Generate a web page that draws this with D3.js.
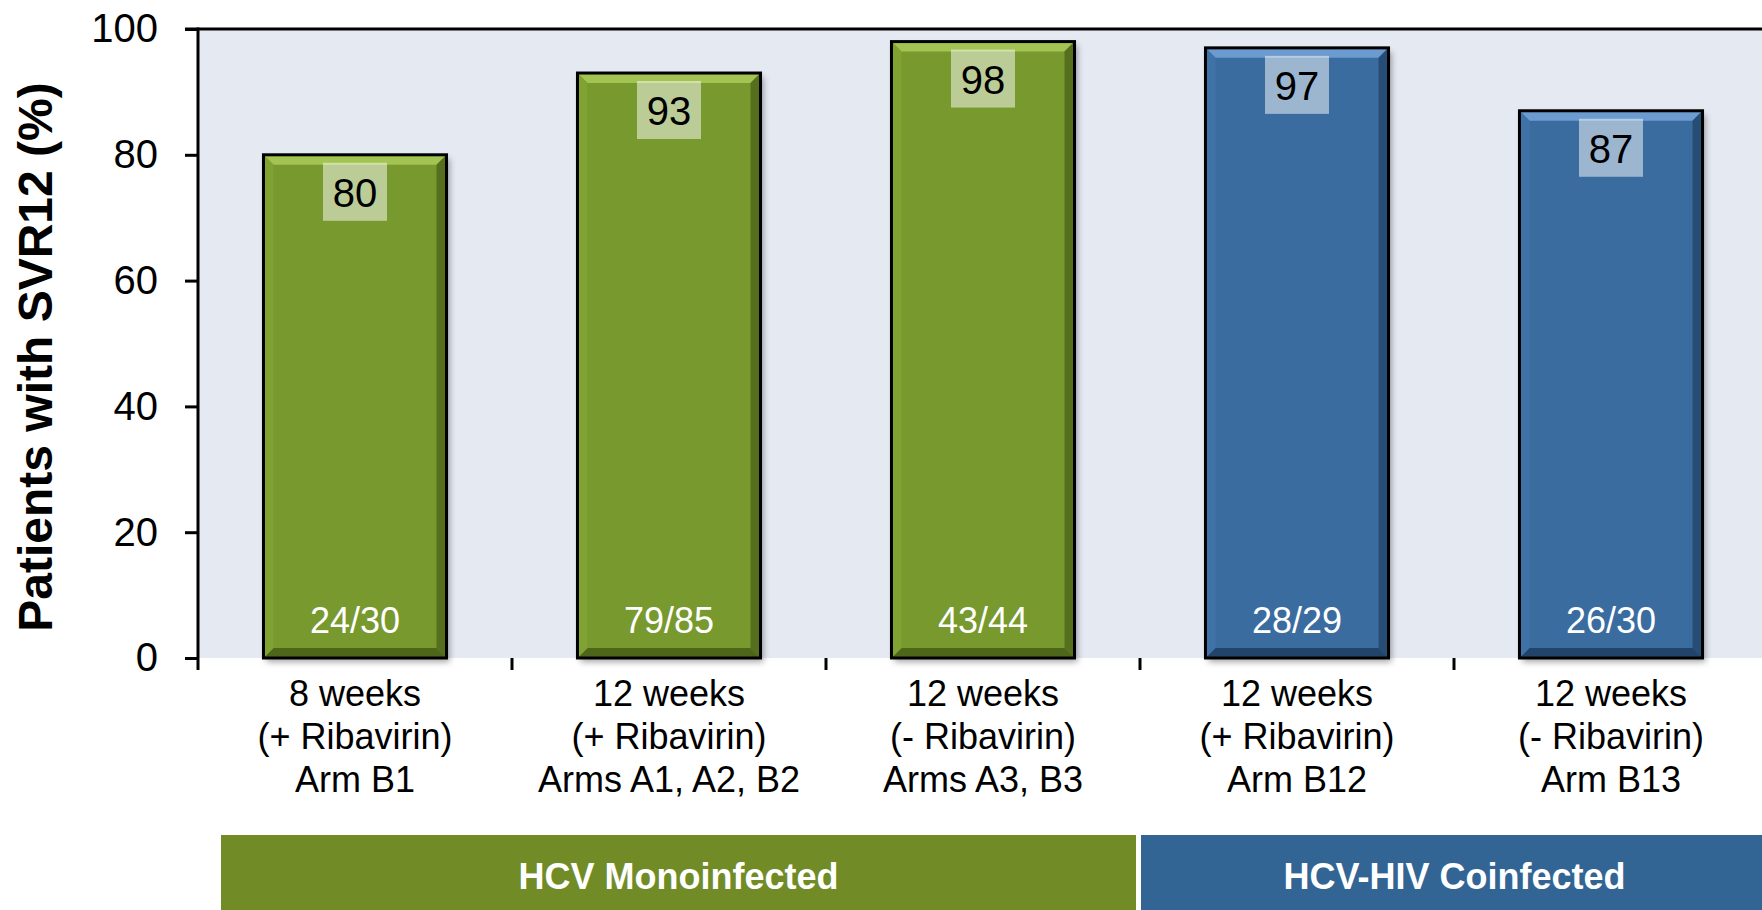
<!DOCTYPE html>
<html><head><meta charset="utf-8">
<script src="https://cdn.jsdelivr.net/npm/d3@7"></script>
<style>
body{margin:0;background:#fff;}
svg{display:block;font-family:"Liberation Sans",Arial,Helvetica,sans-serif;}
</style>
</head><body>
<svg id="c" width="1762" height="910"></svg>
<script>
// ---- data ----
const categories = [
  ["8 weeks", "(+ Ribavirin)", "Arm B1"],
  ["12 weeks", "(+ Ribavirin)", "Arms A1, A2, B2"],
  ["12 weeks", "(- Ribavirin)", "Arms A3, B3"],
  ["12 weeks", "(+ Ribavirin)", "Arm B12"],
  ["12 weeks", "(- Ribavirin)", "Arm B13"]
];
const values = [80, 93, 98, 97, 87];
const ratios = ["24/30", "79/85", "43/44", "28/29", "26/30"];
const groupOf = [0, 0, 0, 1, 1];
const groupNames = ["HCV Monoinfected", "HCV-HIV Coinfected"];
const yTicks = [0, 20, 40, 60, 80, 100];
const yTitle = "Patients with SVR12 (%)";

// ---- styles ----
const palette = [
  {main:"#78992d", light:"#a3c453", left:"#80a232", dark:"#566f1e", bottom:"#4e661a", box:"#718c26"},
  {main:"#3a6ca0", light:"#6c9bd0", left:"#3f72a7", dark:"#284d75", bottom:"#22446a", box:"#336594"}
];

const svg = d3.select("#c");
const defs = svg.append("defs");
const f = defs.append("filter").attr("id","shadow").attr("x","-10%").attr("y","-10%").attr("width","130%").attr("height","130%");
f.append("feDropShadow").attr("dx",3).attr("dy",4).attr("stdDeviation",3).attr("flood-color","#000").attr("flood-opacity",0.35);

const x = d3.scaleBand().domain(d3.range(categories.length)).range([198, 1768])
  .paddingInner(0.417).paddingOuter(0.2085);
const y = d3.scaleLinear().domain([0, 100]).range([658, 29]);
const step = x.step();
const bandStart = i => x(i) - x.paddingInner() * step / 2;

// plot background
svg.append("rect").attr("x", x.range()[0]).attr("y", y(100))
  .attr("width", x.range()[1] - x.range()[0]).attr("height", y(0) - y(100))
  .attr("fill", "#e5e9f2");

// bars
const bw = x.bandwidth();
const bev = 10;
const bars = svg.append("g").selectAll("g").data(values).join("g")
  .attr("transform", (d, i) => `translate(${x(i)},${y(d)})`);
bars.each(function(d, i) {
  const g = d3.select(this);
  const h = y(0) - y(d);
  const c = palette[groupOf[i]];
  g.append("rect").attr("width", bw).attr("height", h).attr("fill", c.main).attr("filter","url(#shadow)");
  g.append("polygon").attr("points", `0,0 ${bw},0 ${bw-bev},${bev} ${bev},${bev}`).attr("fill", c.light);
  g.append("polygon").attr("points", `${bw},0 ${bw},${h} ${bw-bev},${h-bev} ${bw-bev},${bev}`).attr("fill", c.dark);
  g.append("polygon").attr("points", `0,${h} ${bw},${h} ${bw-bev},${h-bev} ${bev},${h-bev}`).attr("fill", c.bottom);
  g.append("polygon").attr("points", `0,0 ${bev},${bev} ${bev},${h-bev} 0,${h}`).attr("fill", c.left);
  g.append("rect").attr("width", bw).attr("height", h).attr("fill", "none").attr("stroke", "#000").attr("stroke-width", 3);
  // value label box
  g.append("rect").attr("x", bw/2 - 32).attr("y", 8).attr("width", 64).attr("height", 58)
    .attr("fill", "#fff").attr("fill-opacity", 0.5);
  g.append("text").attr("x", bw/2).attr("y", 52).attr("text-anchor", "middle")
    .attr("font-size", 40).attr("fill", "#000").text(d);
  // ratio label
  g.append("text").attr("x", bw/2).attr("y", h - 25).attr("text-anchor", "middle")
    .attr("font-size", 36).attr("fill", "#fff").text(ratios[i]);
});

// x axis line with shadow
svg.append("line").attr("x1", 198).attr("x2", 1768).attr("y1", y(0)).attr("y2", y(0))
  .attr("stroke", "#000").attr("stroke-width", 3.5).attr("filter","url(#shadow)");
// top border
svg.append("line").attr("x1", 185).attr("x2", 1768).attr("y1", y(100)).attr("y2", y(100))
  .attr("stroke", "#000").attr("stroke-width", 3);
// y axis line
svg.append("line").attr("x1", 198).attr("x2", 198).attr("y1", y(100) - 1.5).attr("y2", y(0) + 12)
  .attr("stroke", "#000").attr("stroke-width", 3);

// y axis ticks and labels
const yAxis = svg.append("g").attr("transform", "translate(198,0)")
  .call(d3.axisLeft(y).tickValues(yTicks).tickSize(13).tickPadding(27).tickSizeOuter(0));
yAxis.select(".domain").remove();
yAxis.selectAll(".tick line").attr("stroke", "#000").attr("stroke-width", 3);
yAxis.selectAll(".tick text").attr("font-size", 40).attr("fill", "#000")
  .attr("font-family", "Liberation Sans, Arial, sans-serif");

// x category boundary ticks
svg.append("g").selectAll("line").data(d3.range(1, categories.length + 1)).join("line")
  .attr("x1", i => bandStart(i < categories.length ? i : 0) + (i < categories.length ? 0 : step * categories.length))
  .attr("x2", i => bandStart(i < categories.length ? i : 0) + (i < categories.length ? 0 : step * categories.length))
  .attr("y1", y(0)).attr("y2", y(0) + 12).attr("stroke", "#000").attr("stroke-width", 3);

// x category labels via axis
const xAxis = svg.append("g").attr("transform", `translate(0,${y(0)})`)
  .call(d3.axisBottom(x).tickSize(0).tickFormat(() => ""));
xAxis.select(".domain").remove();
xAxis.selectAll(".tick text").remove();
xAxis.selectAll(".tick").each(function(i) {
  const t = d3.select(this).append("text").attr("text-anchor", "middle")
    .attr("font-size", 36).attr("fill", "#000");
  categories[i].forEach((line, k) => {
    t.append("tspan").attr("x", 0).attr("y", 48 + k * 43).text(line);
  });
});

// group boxes
const groupSpans = [
  [bandStart(0) + 23, bandStart(3) - 4],
  [bandStart(3) + 1, bandStart(0) + step * categories.length]
];
groupNames.forEach((name, gi) => {
  const [a, b] = groupSpans[gi];
  svg.append("rect").attr("x", a).attr("y", 835).attr("width", b - a).attr("height", 80)
    .attr("fill", palette[gi].box);
  svg.append("text").attr("x", (a + b) / 2).attr("y", 889).attr("text-anchor", "middle")
    .attr("font-size", 36).attr("font-weight", "bold").attr("fill", "#fff").text(name);
});

// y title
svg.append("text").attr("transform", "translate(52,357) rotate(-90)").attr("text-anchor", "middle")
  .attr("font-size", 48).attr("font-weight", "bold").attr("fill", "#000").text(yTitle);
</script>
</body></html>
